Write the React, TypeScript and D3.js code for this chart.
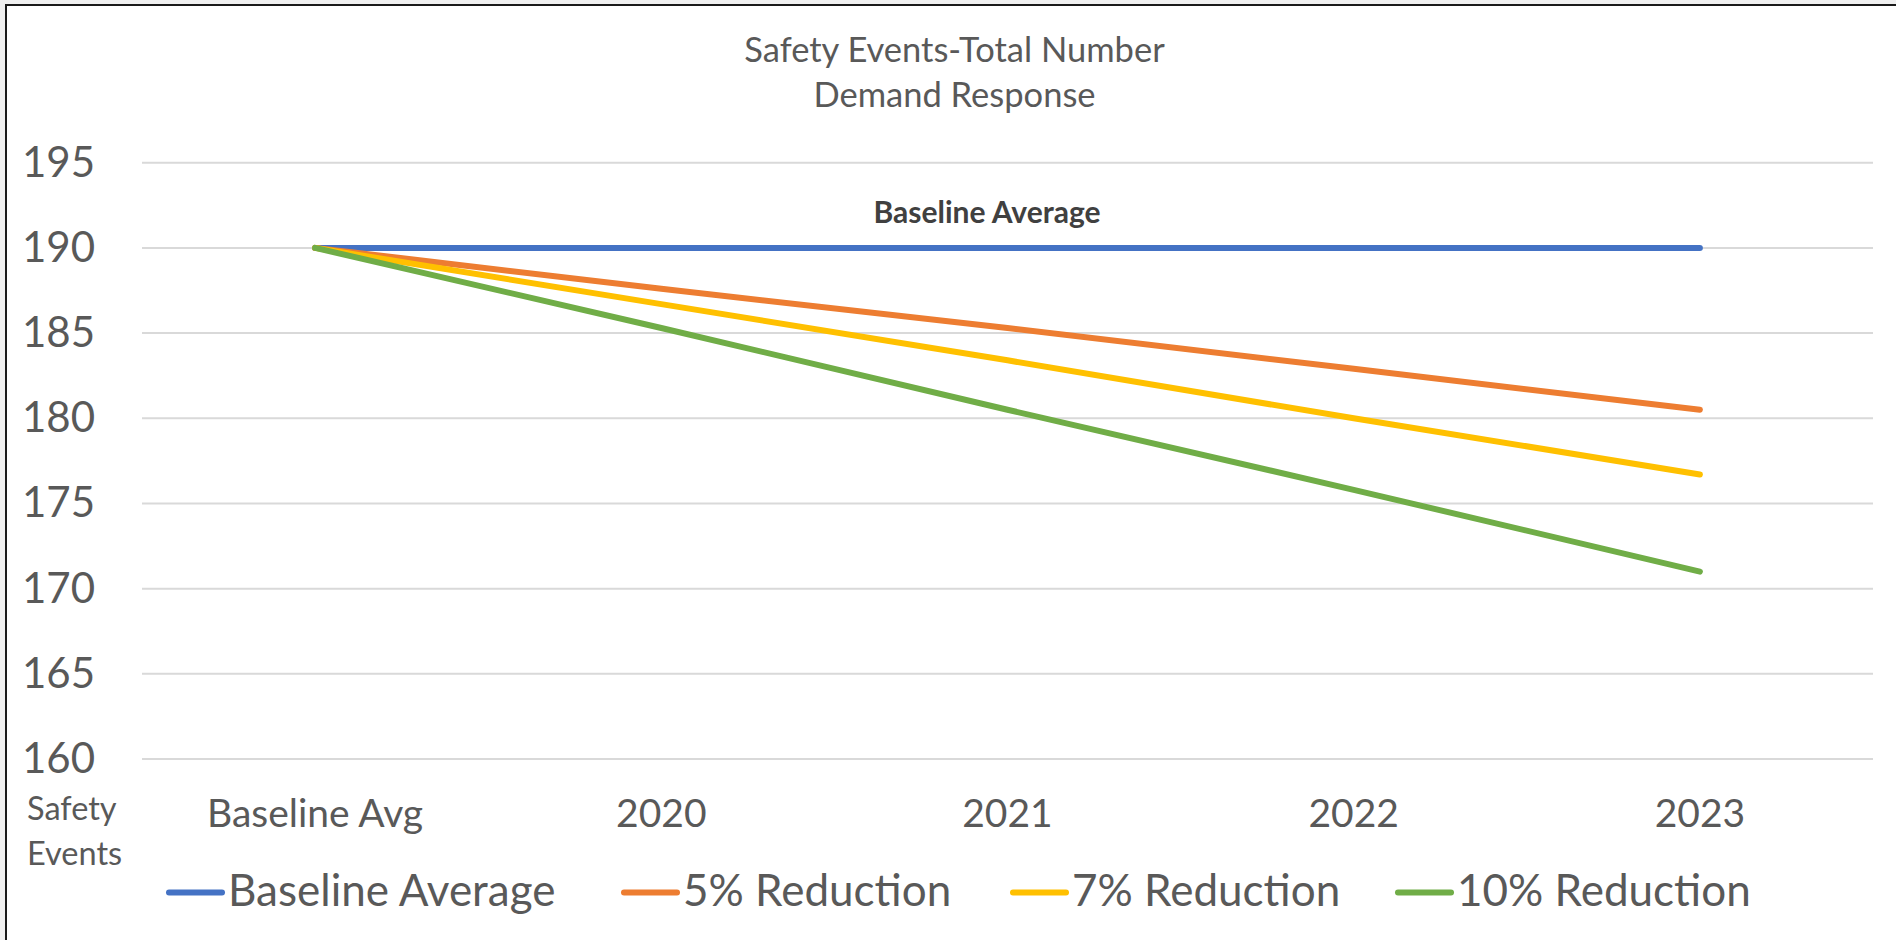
import React from "react";
import * as d3 from "d3";

const categories = ["Baseline Avg", "2020", "2021", "2022", "2023"];
const seriesNames = ["Baseline Average", "5% Reduction", "7% Reduction", "10% Reduction"];
const baselineAverage = [190, 190, 190, 190, 190];
const reduction5 = [190, 187.6, 185.3, 182.9, 180.5];
const reduction7 = [190, 186.7, 183.4, 180.0, 176.7];
const reduction10 = [190, 185.3, 180.5, 175.8, 171.0];
const yTicks = [160, 165, 170, 175, 180, 185, 190, 195];
const titleLines = ["Safety Events-Total Number", "Demand Response"];
const yAxisTitle = ["Safety", "Events"];
const annotation = "Baseline Average";

const colors = ["#4472C4", "#ED7D31", "#FFC000", "#70AD47"];
const FONT = "Lato, 'Open Sans', sans-serif";
const TEXT = "#595959";

export default function App() {
  const W = 1896;
  const H = 940;
  const x = d3.scaleBand<string>().domain(categories).range([142, 1873]);
  const y = d3.scaleLinear().domain([160, 195]).range([759, 162.7]);
  const cx = (c: string) => (x(c) as number) + x.bandwidth() / 2;
  const line = d3
    .line<number>()
    .x((_, i) => cx(categories[i]))
    .y((d) => y(d));
  const series = [baselineAverage, reduction5, reduction7, reduction10];
  const legendX = [169, 624, 1013, 1398];

  return (
    <svg
      width={W}
      height={H}
      style={{ position: "absolute", left: 0, top: 0, display: "block" }}
      fontFamily={FONT}
    >
      <rect x={0} y={0} width={W} height={H} fill="#f0f0f0" />
      <rect x={6} y={5} width={W + 10} height={H + 10} fill="#ffffff" stroke="#1a1a1a" strokeWidth={2} />

      {titleLines.map((t, i) => (
        <text key={t} x={954.5} y={61.7 + i * 45.6} textAnchor="middle" fontSize={34.5} fill={TEXT}>
          {t}
        </text>
      ))}

      {yTicks.map((t) => (
        <g key={t}>
          <line x1={142} x2={1873} y1={y(t)} y2={y(t)} stroke="#d9d9d9" strokeWidth={2} />
          <text x={95} y={y(t) + 14} textAnchor="end" fontSize={42} fill={TEXT}>
            {t}
          </text>
        </g>
      ))}

      {categories.map((c) => (
        <text key={c} x={cx(c)} y={826.7} textAnchor="middle" fontSize={39} fill={TEXT}>
          {c}
        </text>
      ))}

      {yAxisTitle.map((t, i) => (
        <text key={t} x={27} y={820 + i * 45} fontSize={32.5} fill={TEXT}>
          {t}
        </text>
      ))}

      {series.map((s, i) => (
        <path
          key={seriesNames[i]}
          d={line(s) as string}
          fill="none"
          stroke={colors[i]}
          strokeWidth={6}
          strokeLinecap="round"
          strokeLinejoin="round"
        />
      ))}

      <text x={987} y={222.7} textAnchor="middle" fontSize={30} fontWeight="bold" fill="#404040">
        {annotation}
      </text>

      {seriesNames.map((n, i) => (
        <g key={n}>
          <line
            x1={legendX[i]}
            x2={legendX[i] + 53}
            y1={892.5}
            y2={892.5}
            stroke={colors[i]}
            strokeWidth={6}
            strokeLinecap="round"
          />
          <text x={legendX[i] + 59} y={906} fontSize={44} fill={TEXT}>
            {n}
          </text>
        </g>
      ))}
    </svg>
  );
}
